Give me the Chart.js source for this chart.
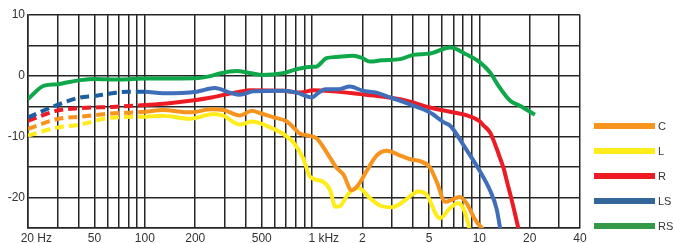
<!DOCTYPE html>
<html>
<head>
<meta charset="utf-8">
<script src="https://cdn.jsdelivr.net/npm/chart.js@4.4.1/dist/chart.umd.min.js"></script>
<style>
  html, body { margin: 0; padding: 0; background: #fff; }
</style>
</head>
<body>
<canvas id="chart" width="673" height="243"></canvas>
<script>
// frequency response, [Hz, dB]
const seriesC = [[20,-8.7],[30,-7.1],[41,-6.7],[62,-6.2],[100,-5.9],[128,-5.6],[186,-6.0],[250,-5.5],[294,-5.6],[370,-6.5],[436,-5.75],[491,-6.15],[586,-6.8],[706,-7.5],[848,-9.5],[974,-9.85],[1066,-10.3],[1224,-12.6],[1400,-15.1],[1538,-16.2],[1724,-18.8],[1892,-17.9],[2122,-15.6],[2430,-13.1],[2796,-12.3],[3370,-13.1],[3860,-13.7],[4410,-14.0],[5050,-15.0],[5580,-17.5],[6250,-20.7],[7050,-20.2],[7650,-19.9],[8420,-21.0],[9380,-23.5],[10540,-25.3]];
const seriesL = [[20,-9.8],[30,-8.5],[41,-8.0],[62,-6.9],[100,-6.7],[128,-6.55],[186,-7.05],[257,-6.25],[294,-6.55],[370,-8.0],[436,-7.5],[491,-7.8],[586,-8.7],[672,-9.55],[772,-10.9],[886,-13.6],[974,-16.6],[1144,-17.3],[1282,-18.8],[1375,-21.5],[1466,-21.4],[1646,-19.4],[1892,-18.4],[2220,-20.1],[2546,-21.3],[2988,-21.6],[3370,-21.0],[3686,-20.2],[4316,-19.0],[4830,-19.5],[5800,-23.4],[6700,-21.7],[7476,-20.9],[8200,-22.4],[8760,-25.3]];
const seriesR = [[20,-7.4],[30,-5.7],[41,-5.3],[64,-5.1],[100,-4.8],[135,-4.55],[186,-4.1],[250,-3.55],[322,-2.9],[370,-2.6],[426,-2.35],[672,-2.45],[848,-2.75],[1020,-2.35],[1340,-2.55],[1940,-3.0],[2546,-3.35],[3370,-3.85],[3860,-4.25],[5050,-5.2],[6700,-5.9],[8420,-6.5],[10050,-7.45],[10540,-8.1],[11600,-9.3],[12400,-11.2],[13300,-13.5],[13980,-15.2],[14580,-17.2],[15260,-19.3],[16000,-21.6],[17200,-25.3]];
const seriesLS = [[20,-6.85],[30,-4.75],[41,-3.55],[50,-3.3],[62,-2.9],[79,-2.6],[100,-2.6],[128,-2.85],[204,-2.6],[262,-2.0],[322,-2.75],[370,-3.1],[444,-2.55],[672,-2.45],[809,-2.75],[1000,-3.55],[1066,-3.0],[1200,-2.2],[1436,-2.2],[1684,-1.75],[2010,-2.45],[2430,-2.75],[2930,-3.55],[3370,-4.1],[4030,-4.9],[5050,-6.0],[6110,-7.6],[6700,-8.2],[8200,-11.75],[10050,-15.6],[11600,-18.85],[12700,-21.9],[13360,-25.3]];
const seriesRS = [[20,-3.8],[25,-1.6],[30,-1.4],[34,-1.1],[41,-0.7],[50,-0.5],[71,-0.6],[100,-0.45],[200,-0.4],[250,0],[280,0.4],[355,0.8],[410,0.55],[500,0.15],[670,0.45],[810,1.1],[1000,1.5],[1050,1.5],[1220,2.9],[1400,3.1],[1760,3.3],[1970,3.0],[2220,2.35],[2600,2.55],[3370,2.75],[4030,3.45],[5050,3.65],[6700,4.65],[8400,3.5],[10000,2.3],[11600,0.55],[13000,-1.6],[15300,-4.1],[17500,-4.9],[21500,-6.4]];

const dashedBelow = 100; // measured part ends here, below it the curves are dashed

const xGridValues = [20,30,40,50,60,70,80,90,100,200,300,400,500,600,700,800,900,1000,2000,3000,4000,5000,6000,7000,8000,9000,10000,20000,30000,40000];
const xLabelValues = [20,50,100,200,500,1000,2000,5000,10000,20000,40000];
const xLabelTexts = ['     20 Hz','50','100','200','500','       1 kHz','2','5','10','20','40'];
const yLabelValues = [10,0,-10,-20];

const toPoints = arr => arr.map(p => ({x: p[0], y: p[1]}));

function makeSet(label, data, color, legendColor, opts) {
    return Object.assign({
        label: label,
        data: toPoints(data),
        borderColor: color,
        legendColor: legendColor,
        borderWidth: 4,
        pointRadius: 0,
        fill: false,
        cubicInterpolationMode: 'monotone',
        segment: {
            borderDash: c => c.p1.parsed.x <= dashedBelow ? [9, 5] : undefined
        }
    }, opts || {});
}

const datasets = [
    makeSet('C', seriesC, '#F7941D', '#F7941D', {order: 1}),
    makeSet('L', seriesL, '#FFEC1A', '#FFEC1A', {order: 2}),
    makeSet('R', seriesR, '#ED1C24', '#ED1C24', {order: 4}),
    makeSet('LS', seriesLS, '#3F6FBA', '#336699', {order: 3,
        segment: {
            borderDash: c => c.p1.parsed.x <= dashedBelow ? [9, 5] : undefined,
            borderColor: c => c.p1.parsed.x <= dashedBelow ? '#1D5FA0' : undefined
        }}),
    makeSet('RS', seriesRS, '#0EA84B', '#349A48', {order: 5, segment: {}})
];

// legend at the right, bars plus label
const sideLegend = {
    id: 'sideLegend',
    afterDraw(chart) {
        const ctx = chart.ctx;
        const left = chart.chartArea.right + 14;
        ctx.save();
        ctx.font = '11px "Liberation Sans", Arial, sans-serif';
        ctx.textBaseline = 'middle';
        ctx.textAlign = 'left';
        chart.data.datasets.forEach((ds, i) => {
            const y = 126 + i * 25;
            ctx.fillStyle = ds.legendColor;
            ctx.fillRect(left, y - 3, 61, 6);
            ctx.fillStyle = '#333';
            ctx.fillText(ds.label, left + 64, y + 0.5);
        });
        ctx.restore();
    }
};

const gridColor = '#262626';

new Chart(document.getElementById('chart'), {
    type: 'line',
    data: { datasets: datasets },
    options: {
        responsive: false,
        animation: false,
        layout: { padding: { top: 15, right: 93, left: 0, bottom: 0 } },
        plugins: { legend: { display: false }, tooltip: { enabled: false } },
        scales: {
            x: {
                type: 'logarithmic',
                min: 20,
                max: 40000,
                afterBuildTicks: scale => { scale.ticks = xGridValues.map(v => ({value: v})); },
                afterFit: scale => { scale.height = 15; },
                grid: { color: gridColor, lineWidth: 1.5, drawTicks: false, tickLength: 0 },
                border: { color: gridColor, width: 1.5 },
                ticks: {
                    autoSkip: false,
                    maxRotation: 0,
                    minRotation: 0,
                    padding: 3,
                    color: '#333',
                    font: { family: '"Liberation Sans", Arial, sans-serif', size: 12 },
                    callback: function(value) {
                        const i = xLabelValues.indexOf(value);
                        return i >= 0 ? xLabelTexts[i] : '';
                    }
                }
            },
            y: {
                min: -25,
                max: 10,
                afterFit: scale => { scale.width = 28; },
                grid: { color: gridColor, lineWidth: 1.5, drawTicks: false, tickLength: 0 },
                border: { color: gridColor, width: 1.5 },
                ticks: {
                    stepSize: 5,
                    padding: 3,
                    color: '#333',
                    font: { family: '"Liberation Sans", Arial, sans-serif', size: 12 },
                    callback: function(value) {
                        return yLabelValues.includes(value) ? String(value) : '';
                    }
                }
            }
        }
    },
    plugins: [sideLegend]
});
</script>
</body>
</html>
